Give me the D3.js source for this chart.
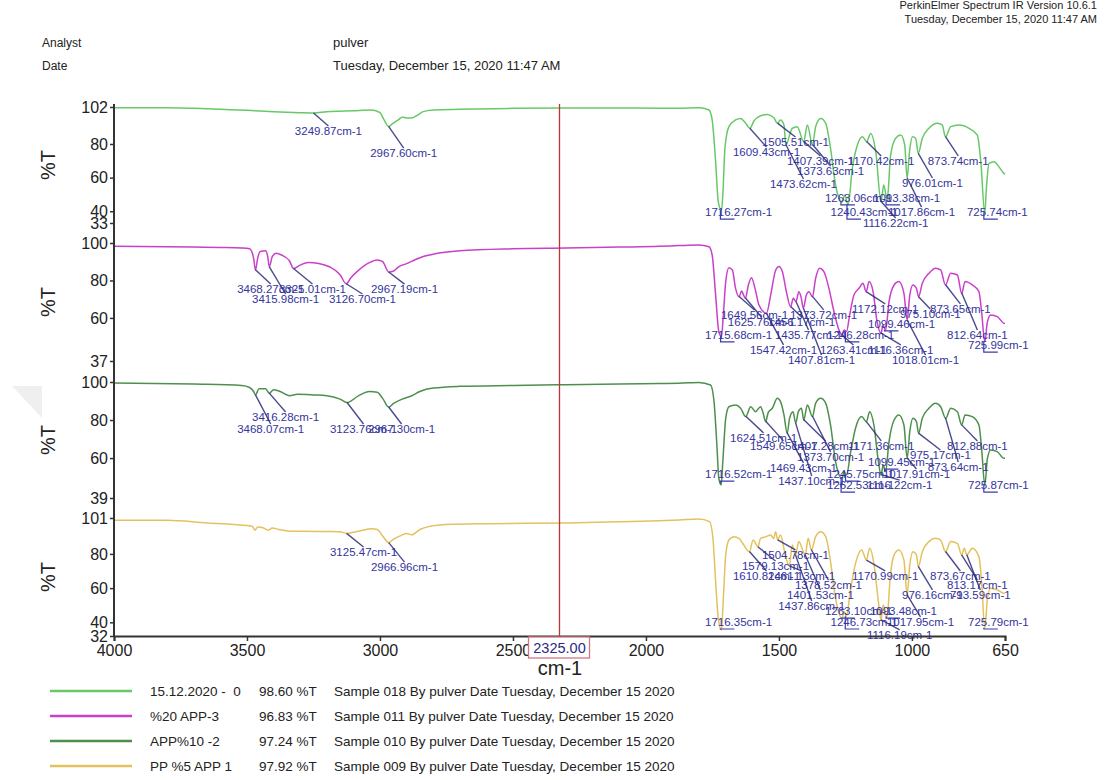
<!DOCTYPE html>
<html>
<head>
<meta charset="utf-8">
<script src="https://cdn.jsdelivr.net/npm/d3@7"></script>
<style>
  body { margin: 0; background: #fff; }
  svg { display: block; }
  text { font-family: "Liberation Sans", Arial, sans-serif; }
</style>
</head>
<body>
<svg id="chart" width="1105" height="780"></svg>
<script>
// ---------- axis values ----------
const xTicks = [4000, 3500, 3000, 2500, 2000, 1500, 1000, 650];
const cursorWn = 2325;

// ---------- samples ----------
const sampleNames  = ["15.12.2020 -  0", "%20 APP-3", "APP%10 -2", "PP %5 APP 1"];
const sampleValues = ["98.60 %T", "96.83 %T", "97.24 %T", "97.92 %T"];
const sampleInfo = [
  "Sample 018 By pulver Date Tuesday, December 15 2020",
  "Sample 011 By pulver Date Tuesday, December 15 2020",
  "Sample 010 By pulver Date Tuesday, December 15 2020",
  "Sample 009 By pulver Date Tuesday, December 15 2020"
];

// %T ranges and ticks of the four stacked traces
const yDomain0 = [33, 102], yTicks0 = [102, 80, 60, 40, 33];
const yDomain1 = [37, 100], yTicks1 = [100, 80, 60, 37];
const yDomain2 = [39, 100], yTicks2 = [100, 80, 60, 39];
const yDomain3 = [32, 101], yTicks3 = [101, 80, 60, 40, 32];

// ---------- spectra: [wavenumber cm-1, %T] ----------
const spec0 = [[4000,101.6],[3800,101.6],[3700,101.2],[3600,100.6],[3500,100.0],[3400,99.2],[3300,98.6],[3250,98.4],[3200,99.2],[3100,99.8],[3030,100.2],[3000,98.6],[2985,94.5],[2968,90.4],[2950,92.4],[2930,94.5],[2917,95.9],[2900,95.5],[2880,95.5],[2860,97.0],[2840,99.1],[2800,100.2],[2700,100.6],[2500,101.2],[2300,101.4],[2100,101.4],[1950,101.3],[1876,101.2],[1801,101.6],[1763,100.2],[1751,94.3],[1738,69.5],[1728,45.6],[1716,40.5],[1711,49.6],[1703,77.4],[1688,90.3],[1663,94.3],[1644,95.2],[1625,92.3],[1609,89.3],[1594,93.7],[1569,96.8],[1544,97.6],[1519,95.6],[1506,92.3],[1494,94.3],[1481,91.3],[1474,79.4],[1450,89.3],[1431,90.3],[1407,81.4],[1393,91.3],[1374,79.4],[1362,90.3],[1343,95.2],[1324,92.3],[1306,77.4],[1287,55.6],[1263,45.6],[1252,49.6],[1240,43.7],[1224,65.5],[1205,79.4],[1186,84.3],[1170,81.4],[1155,86.3],[1136,75.4],[1116,45.6],[1106,55.6],[1093,46.6],[1080,73.4],[1061,83.4],[1042,85.3],[1027,79.4],[1018,59.5],[1009,75.4],[998,84.3],[986,83.4],[976,74.4],[961,83.4],[936,89.3],[904,92.3],[886,91.3],[874,84.3],[854,90.3],[823,91.3],[785,89.3],[754,85.3],[741,69.5],[726,38.7],[720,53.6],[710,68.5],[691,69.5],[673,66.5],[654,62.5],[650,62.0]];

const spec1 = [[4000,98.2],[3700,97.8],[3600,97.6],[3520,97.3],[3490,96.9],[3475,91.8],[3468,85.5],[3460,91.8],[3450,95.5],[3430,95.8],[3422,92.7],[3416,87.3],[3405,92.7],[3390,94.5],[3370,93.6],[3340,90.4],[3325,86.4],[3300,88.2],[3270,89.6],[3230,89.1],[3190,87.3],[3150,83.1],[3127,78.2],[3110,81.3],[3080,85.5],[3040,89.5],[3010,90.9],[2990,90.0],[2967,84.5],[2950,84.9],[2930,87.3],[2900,89.0],[2870,90.9],[2840,92.7],[2800,94.0],[2700,95.8],[2500,96.9],[2300,97.3],[2100,97.8],[1950,98.2],[1876,98.6],[1801,98.9],[1763,98.0],[1751,93.6],[1738,72.2],[1726,52.7],[1716,50.0],[1709,61.6],[1700,79.4],[1688,86.8],[1675,85.6],[1663,75.8],[1650,71.3],[1640,74.4],[1633,72.2],[1626,70.5],[1615,77.6],[1603,81.5],[1590,75.8],[1575,66.9],[1547,62.5],[1531,72.2],[1512,85.6],[1500,87.4],[1487,84.7],[1472,74.0],[1456,66.0],[1446,70.5],[1436,68.7],[1425,74.0],[1417,71.3],[1408,65.1],[1397,72.2],[1387,74.0],[1374,71.3],[1362,81.1],[1347,86.5],[1331,84.7],[1312,75.8],[1293,63.3],[1274,53.5],[1263,50.9],[1255,53.5],[1246,52.7],[1234,61.6],[1218,72.2],[1199,75.8],[1184,78.5],[1172,74.0],[1161,79.4],[1146,74.0],[1131,58.0],[1116,51.8],[1109,56.2],[1099,53.5],[1086,68.7],[1067,77.6],[1049,79.4],[1030,73.1],[1018,58.9],[1008,72.2],[996,77.6],[983,75.8],[975,71.3],[961,78.5],[936,83.8],[911,86.5],[892,85.6],[874,77.6],[854,83.8],[829,82.9],[813,73.1],[800,79.4],[773,77.6],[748,74.0],[738,63.3],[726,47.3],[716,58.0],[704,61.6],[679,60.7],[654,57.1],[650,57.0]];

const spec2 = [[4000,99.5],[3700,98.9],[3520,98.2],[3490,97.1],[3475,95.0],[3468,93.2],[3455,96.4],[3430,96.4],[3416,94.1],[3400,95.9],[3380,95.3],[3340,92.8],[3310,93.5],[3250,93.2],[3200,92.8],[3150,91.0],[3124,89.2],[3080,92.8],[3040,95.0],[3010,94.6],[2990,91.4],[2967,86.8],[2950,88.6],[2917,91.0],[2880,92.8],[2850,95.0],[2800,96.8],[2700,97.7],[2500,98.2],[2300,98.6],[2100,99.0],[1950,99.2],[1876,99.3],[1801,99.8],[1757,98.4],[1744,89.7],[1734,68.6],[1726,49.4],[1717,45.8],[1711,58.1],[1700,80.9],[1688,87.0],[1663,87.9],[1644,86.2],[1625,81.8],[1606,87.0],[1588,84.4],[1569,87.0],[1560,84.0],[1550,79.2],[1540,84.0],[1525,86.2],[1506,91.4],[1494,89.7],[1481,82.7],[1469,73.0],[1460,80.9],[1447,84.4],[1437,78.3],[1427,84.4],[1415,86.2],[1407,80.0],[1393,87.9],[1374,81.8],[1362,88.8],[1343,91.4],[1324,88.8],[1306,77.4],[1287,58.1],[1263,49.4],[1255,52.9],[1246,51.1],[1230,63.4],[1212,75.7],[1189,81.8],[1171,79.1],[1159,84.4],[1143,77.4],[1126,58.1],[1116,51.1],[1108,56.4],[1099,52.9],[1086,68.7],[1067,80.0],[1049,82.7],[1030,77.4],[1018,59.9],[1008,73.9],[996,80.9],[983,79.2],[975,73.0],[961,80.9],[936,86.2],[911,88.8],[892,87.0],[873,80.9],[854,86.2],[829,84.4],[813,77.4],[800,82.7],[773,81.8],[748,77.4],[738,65.1],[726,45.8],[716,59.9],[704,64.3],[679,63.4],[654,59.9],[650,60.0]];

const spec3 = [[4000,99.7],[3800,99.7],[3650,98.1],[3550,97.2],[3500,96.6],[3480,96.2],[3470,93.9],[3460,95.8],[3440,95.3],[3420,93.9],[3405,95.1],[3380,94.3],[3340,93.3],[3300,93.3],[3200,93.1],[3150,92.9],[3125,92.0],[3080,93.3],[3030,94.7],[3010,94.3],[2990,90.5],[2967,86.6],[2950,88.5],[2920,90.8],[2900,92.0],[2880,91.2],[2850,94.3],[2810,96.2],[2750,97.2],[2600,97.7],[2300,98.1],[2100,98.8],[1950,99.4],[1876,99.8],[1801,100.4],[1761,98.9],[1748,89.1],[1738,63.8],[1728,42.3],[1716,35.5],[1709,54.0],[1700,79.4],[1688,88.1],[1669,90.1],[1650,89.1],[1632,85.2],[1611,81.3],[1597,88.1],[1579,84.2],[1569,89.1],[1548,90.1],[1531,91.1],[1520,89.0],[1512,93.0],[1505,88.1],[1494,91.1],[1477,80.0],[1461,73.0],[1450,85.2],[1438,79.4],[1425,87.2],[1410,82.0],[1401,79.4],[1390,89.1],[1378,82.3],[1362,90.1],[1343,93.0],[1324,90.1],[1306,75.5],[1287,54.0],[1263,42.3],[1255,46.2],[1247,43.3],[1230,59.9],[1212,74.5],[1189,82.3],[1171,76.4],[1159,83.3],[1143,74.5],[1126,52.1],[1116,41.3],[1108,50.1],[1093,43.3],[1082,65.7],[1067,79.4],[1049,82.3],[1030,76.4],[1018,56.0],[1008,73.5],[996,81.3],[983,79.4],[976,72.5],[961,81.3],[936,87.2],[911,89.1],[892,88.1],[874,81.3],[854,87.2],[829,86.2],[813,79.4],[803,83.3],[794,79.4],[773,83.3],[748,78.4],[738,63.8],[726,36.5],[716,54.0],[704,59.9],[679,58.9],[654,57.0],[650,57.0]];

// ---------- picked peaks (cm-1) ----------
const peaks0 = [3249.87, 2967.60, 1609.43, 1505.51, 1407.39, 1170.42, 873.74, 1373.63, 1473.62, 976.01, 1263.06, 1093.38, 1716.27, 1240.43, 1017.86, 725.74, 1116.22];
const peaks1 = [3468.27, 3325.01, 2967.19, 3415.98, 3126.70, 1172.12, 873.65, 1649.56, 1373.72, 975.10, 1625.76, 1456.17, 1099.46, 1715.68, 1435.77, 1246.28, 812.64, 1547.42, 1263.41, 1116.36, 725.99, 1407.81, 1018.01];
const peaks2 = [3416.28, 3468.07, 3123.76, 2967.30, 1624.51, 1549.65, 1407.28, 1171.36, 812.88, 1373.70, 975.17, 1099.45, 873.64, 1469.43, 1716.52, 1245.75, 1017.91, 1437.10, 1262.53, 1116.22, 725.87];
const peaks3 = [3125.47, 2966.96, 1504.78, 1579.13, 1610.82, 1461.13, 1170.99, 873.67, 1378.52, 813.17, 1401.53, 976.16, 793.59, 1437.86, 1263.10, 1093.48, 1716.35, 1246.73, 1017.95, 725.79, 1116.19];

// where each peak label sits: [wavenumber at text start, %T at text middle]
const labelAt0 = [[3320,87.7],[3037,74.6],[1673,75.2],[1564,81.2],[1470,69.9],[1240,69.9],[940,69.9],[1432,63.9],[1534,56.2],[1037,56.8],[1327,47.9],[1146,47.9],[1778,39.5],[1306,39.5],[1090,39.5],[793,39.5],[1184,33.0]];
const labelAt1 = [[3537,75.4],[3380,75.4],[3034,75.4],[3481,70.1],[3192,70.1],[1225,64.8],[932,64.8],[1718,61.6],[1458,61.6],[1045,62.1],[1692,57.8],[1541,57.8],[1165,56.8],[1778,50.9],[1515,50.9],[1319,50.9],[868,50.9],[1609,42.9],[1346,42.9],[1165,42.9],[789,45.5],[1466,37.5],[1075,37.5]];
const labelAt2 = [[3481,81.6],[3537,75.3],[3188,75.3],[3045,75.3],[1684,70.6],[1609,66.4],[1451,66.4],[1240,66.4],[868,66.4],[1432,60.6],[1007,61.6],[1165,57.9],[940,55.3],[1534,54.8],[1778,51.6],[1319,51.6],[1109,51.6],[1503,47.9],[1319,45.8],[1169,45.8],[789,45.8]];
const labelAt3 = [[3188,81.1],[3034,72.3],[1564,79.4],[1639,72.9],[1673,67.1],[1541,67.1],[1225,67.1],[932,67.1],[1440,61.8],[868,61.8],[1470,56.0],[1037,56.0],[857,56.0],[1503,49.5],[1327,46.6],[1158,46.6],[1778,40.2],[1306,40.2],[1094,40.2],[789,40.2],[1169,32.6]];

// ---------- layout ----------
const traceColors = ["#68c868", "#c940c9", "#4d904d", "#e3c25e"];
const panelRanges = [[223, 107], [361, 243], [498, 382], [636, 518]];
const plotLeft = 114, plotRight = 1005, axisY = 636, plotTop = 104;

const svg = d3.select("#chart");
const x = d3.scaleLinear().domain([4000, 650]).range([plotLeft, plotRight]);

const panels = [
  { domain: yDomain0, ticks: yTicks0, spec: spec0, peaks: peaks0, labels: labelAt0 },
  { domain: yDomain1, ticks: yTicks1, spec: spec1, peaks: peaks1, labels: labelAt1 },
  { domain: yDomain2, ticks: yTicks2, spec: spec2, peaks: peaks2, labels: labelAt2 },
  { domain: yDomain3, ticks: yTicks3, spec: spec3, peaks: peaks3, labels: labelAt3 }
];

// %T at a wavenumber
function valueAt(spec, wn) {
  for (let i = 0; i < spec.length - 1; i++) {
    const a = spec[i], b = spec[i + 1];
    if (a[0] >= wn && b[0] <= wn) {
      const t = (a[0] - wn) / (a[0] - b[0] || 1);
      return a[1] + t * (b[1] - a[1]);
    }
  }
  return spec[spec.length - 1][1];
}

// faint page-corner shading at the left margin
svg.append("path").attr("d", "M12,386 L42,386 L42,418 Z").attr("fill", "#efefef");

// ---------- header ----------
const head = svg.append("g").attr("fill", "#222");
head.append("text").attr("x", 1097).attr("y", 9).attr("text-anchor", "end")
  .attr("font-size", 11).text("PerkinElmer Spectrum IR Version 10.6.1");
head.append("text").attr("x", 1097).attr("y", 23).attr("text-anchor", "end")
  .attr("font-size", 11).text("Tuesday, December 15, 2020 11:47 AM");
head.append("text").attr("x", 42).attr("y", 47).attr("font-size", 12).text("Analyst");
head.append("text").attr("x", 42).attr("y", 70).attr("font-size", 12).text("Date");
head.append("text").attr("x", 333).attr("y", 47).attr("font-size", 13).text("pulver");
head.append("text").attr("x", 333).attr("y", 70).attr("font-size", 13).text("Tuesday, December 15, 2020 11:47 AM");

// ---------- traces ----------
const line = d3.line().curve(d3.curveMonotoneX);

panels.forEach((p, i) => {
  const [bottom, top] = panelRanges[i];
  const y = d3.scaleLinear().domain(p.domain).range([bottom, top]);
  const g = svg.append("g");

  // y axis ticks for this trace
  const axis = d3.axisLeft(y).tickValues(p.ticks).tickSize(4).tickPadding(2).tickFormat(d3.format("d"));
  const ag = g.append("g").attr("transform", `translate(${plotLeft},0)`).call(axis);
  ag.select(".domain").remove();
  ag.selectAll("line").attr("stroke", "#333").attr("stroke-width", 1.5);
  ag.selectAll("text").attr("font-size", 16).attr("fill", "#222")
    .attr("font-family", "Liberation Sans, Arial, sans-serif");

  // %T title
  g.append("text")
    .attr("transform", `translate(55,${(top + bottom) / 2}) rotate(-90)`)
    .attr("text-anchor", "middle").attr("font-size", 20).attr("fill", "#222")
    .text("%T");

  // spectrum
  g.append("path")
    .attr("d", line.x(d => x(d[0])).y(d => y(d[1]))(p.spec))
    .attr("fill", "none").attr("stroke", traceColors[i]).attr("stroke-width", 1.5)
    .attr("stroke-linejoin", "round");

  // peak labels with leaders
  const lg = g.append("g");
  p.peaks.forEach((pk, k) => {
    const [lw, lt] = p.labels[k];
    const tx = x(lw), ty = y(lt);
    const txt = lg.append("text").attr("x", tx).attr("y", ty).attr("dy", "0.35em")
      .attr("font-size", 11.5).attr("fill", "#34349c")
      .text(pk.toFixed(2) + "cm-1");
    const w = txt.node().getComputedTextLength();
    const px = x(pk), py = y(valueAt(p.spec, pk));
    const topY = ty - 5;
    if (topY > py + 3) {
      lg.append("line").attr("x1", px).attr("y1", py).attr("x2", tx + w / 2).attr("y2", topY)
        .attr("stroke", "#2a2a7a").attr("stroke-width", 1.4).attr("stroke-opacity", 0.85);
    } else {
      lg.append("path")
        .attr("d", `M${px - 1},${py} V${ty + 7} H${px + 13}`)
        .attr("fill", "none").attr("stroke", "#3a3ab0").attr("stroke-width", 1.2);
    }
  });
});

// ---------- frame: y axis line and wavenumber axis ----------
svg.append("line").attr("x1", plotLeft).attr("x2", plotLeft).attr("y1", plotTop).attr("y2", axisY)
  .attr("stroke", "#333").attr("stroke-width", 2);

const xg = svg.append("g").attr("transform", `translate(0,${axisY})`)
  .call(d3.axisBottom(x).tickValues(xTicks).tickSize(5).tickPadding(4).tickFormat(d3.format("d")));
xg.select(".domain").attr("stroke", "#333").attr("stroke-width", 2);
xg.selectAll("line").attr("stroke", "#333").attr("stroke-width", 1.5);
xg.selectAll("text").attr("font-size", 16).attr("fill", "#222")
  .attr("font-family", "Liberation Sans, Arial, sans-serif");

svg.append("text").attr("x", 560).attr("y", 675).attr("text-anchor", "middle")
  .attr("font-size", 20).attr("fill", "#222").text("cm-1");

// ---------- cursor ----------
const cx = x(cursorWn);
svg.append("line").attr("x1", cx).attr("x2", cx).attr("y1", plotTop).attr("y2", axisY)
  .attr("stroke", "#b83636").attr("stroke-width", 1.3);
svg.append("rect").attr("x", cx - 31).attr("y", axisY + 1).attr("width", 61).attr("height", 21)
  .attr("fill", "#fff").attr("stroke", "#d07888").attr("stroke-width", 1.3);
svg.append("text").attr("x", cx).attr("y", axisY + 17).attr("text-anchor", "middle")
  .attr("font-size", 14.5).attr("fill", "#2a2a8a").text(cursorWn.toFixed(2));

// ---------- legend ----------
const legendRows = [691, 716, 741, 766];
sampleNames.forEach((n, i) => {
  const ly = legendRows[i];
  svg.append("line").attr("x1", 50).attr("x2", 132).attr("y1", ly).attr("y2", ly)
    .attr("stroke", traceColors[i]).attr("stroke-width", 2.5);
  const t = svg.append("g").attr("font-size", 13.5).attr("fill", "#222");
  t.append("text").attr("x", 150).attr("y", ly + 5).attr("xml:space", "preserve")
    .style("white-space", "pre").text(n);
  t.append("text").attr("x", 259).attr("y", ly + 5).text(sampleValues[i]);
  t.append("text").attr("x", 334).attr("y", ly + 5).text(sampleInfo[i]);
});
</script>
</body>
</html>
